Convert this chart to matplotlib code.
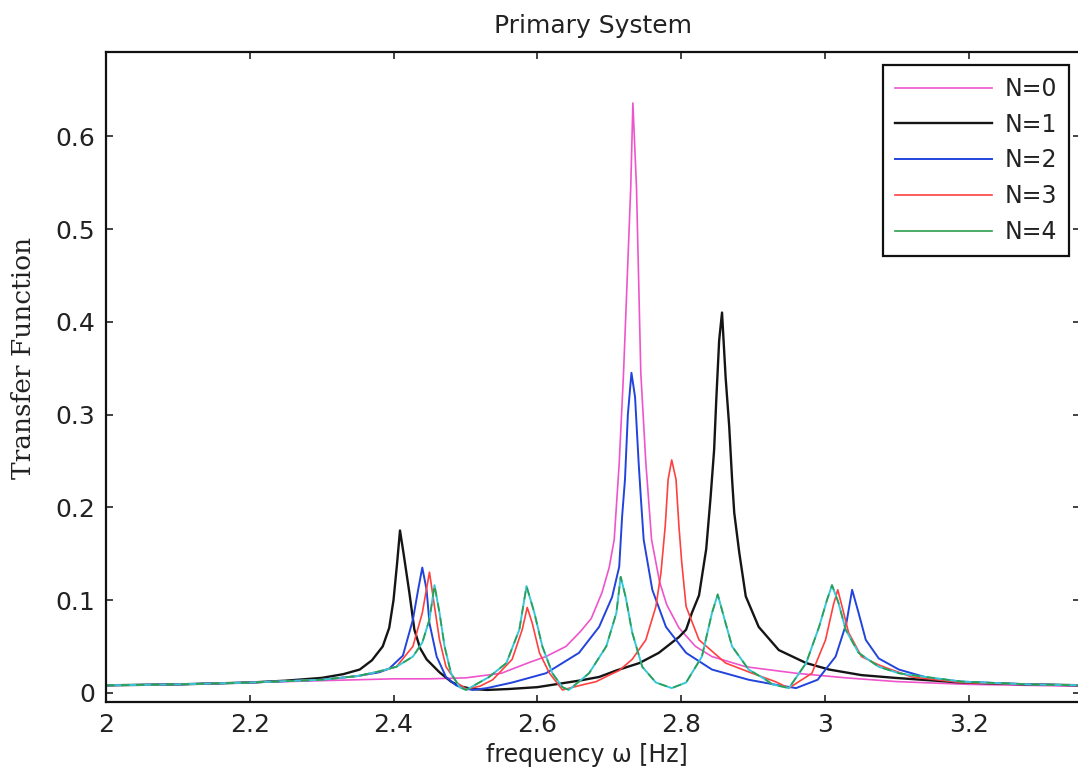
import numpy as np
import matplotlib
matplotlib.use('Agg')
import matplotlib.pyplot as plt
from matplotlib.ticker import FuncFormatter

# values (frequency in Hz, transfer function magnitude)
x_n0 = [2.0, 2.1, 2.2, 2.3, 2.4, 2.45, 2.5, 2.55, 2.59, 2.612, 2.64, 2.66, 2.675,
        2.69, 2.7, 2.707, 2.714, 2.72, 2.725, 2.73, 2.733, 2.738, 2.741, 2.744,
        2.751, 2.759, 2.77, 2.78, 2.797, 2.82, 2.843, 2.89, 2.96, 3.03, 3.1, 3.2, 3.36]
y_n0 = [0.008, 0.009, 0.011, 0.013, 0.015, 0.015, 0.016, 0.021, 0.033, 0.039, 0.05, 0.066, 0.08,
        0.108, 0.135, 0.165, 0.248, 0.345, 0.445, 0.545, 0.636, 0.545, 0.445, 0.345,
        0.248, 0.165, 0.12, 0.095, 0.07, 0.05, 0.039, 0.028, 0.021, 0.016, 0.012, 0.009, 0.007]

x_n1 = [2.0, 2.1, 2.2, 2.25, 2.3, 2.33, 2.353, 2.37, 2.385, 2.394, 2.4, 2.405, 2.409,
        2.414, 2.422, 2.429, 2.437, 2.446, 2.464, 2.48, 2.492, 2.51, 2.53, 2.56, 2.6,
        2.658, 2.686, 2.71, 2.742, 2.769, 2.797, 2.807, 2.815, 2.825, 2.835, 2.841,
        2.846, 2.849, 2.853, 2.857, 2.862, 2.867, 2.871, 2.874, 2.881, 2.89, 2.908,
        2.936, 2.974, 3.006, 3.051, 3.098, 3.19, 3.283, 3.36]
y_n1 = [0.008, 0.009, 0.011, 0.013, 0.016, 0.02, 0.025, 0.035, 0.05, 0.07, 0.1, 0.14, 0.175,
        0.15, 0.108, 0.068, 0.048, 0.036, 0.022, 0.012, 0.007, 0.004, 0.003, 0.004, 0.006,
        0.013, 0.017, 0.024, 0.032, 0.043, 0.06, 0.068, 0.086, 0.105, 0.155, 0.21,
        0.262, 0.316, 0.38, 0.41, 0.34, 0.287, 0.23, 0.194, 0.151, 0.104, 0.071,
        0.046, 0.032, 0.025, 0.019, 0.016, 0.011, 0.009, 0.008]

x_n2 = [2.0, 2.1, 2.2, 2.3, 2.35, 2.38, 2.394, 2.413, 2.427, 2.434, 2.44, 2.446, 2.45,
        2.46, 2.473, 2.487, 2.496, 2.51, 2.53, 2.565, 2.612, 2.658, 2.686, 2.704, 2.714,
        2.718, 2.722, 2.726, 2.731, 2.736, 2.741, 2.744, 2.748, 2.76, 2.779, 2.807,
        2.843, 2.894, 2.936, 2.96, 2.99, 3.015, 3.03, 3.038, 3.047, 3.057, 3.075, 3.103,
        3.13, 3.144, 3.19, 3.283, 3.36]
y_n2 = [0.008, 0.009, 0.011, 0.014, 0.018, 0.022, 0.026, 0.04, 0.079, 0.11, 0.135, 0.111, 0.075,
        0.039, 0.017, 0.008, 0.005, 0.003, 0.005, 0.011, 0.021, 0.043, 0.071, 0.103, 0.136,
        0.19, 0.23, 0.3, 0.345, 0.319, 0.248, 0.211, 0.165, 0.111, 0.071, 0.043,
        0.025, 0.014, 0.008, 0.005, 0.014, 0.039, 0.075, 0.111, 0.086, 0.057, 0.037, 0.025,
        0.019, 0.016, 0.012, 0.009, 0.008]

x_n3 = [2.0, 2.1, 2.2, 2.3, 2.35, 2.38, 2.404, 2.427, 2.44, 2.45, 2.457, 2.464, 2.473,
        2.488, 2.501, 2.52, 2.538, 2.565, 2.579, 2.586, 2.593, 2.603, 2.617, 2.635, 2.66,
        2.682, 2.7, 2.714, 2.732, 2.751, 2.765, 2.772, 2.778, 2.782, 2.787, 2.793, 2.797,
        2.801, 2.807, 2.825, 2.862, 2.899, 2.931, 2.95, 2.982, 3.001, 3.012, 3.018, 3.024,
        3.033, 3.051, 3.075, 3.085, 3.121, 3.19, 3.283, 3.36]
y_n3 = [0.008, 0.009, 0.011, 0.014, 0.018, 0.023, 0.028, 0.05, 0.086, 0.13, 0.093, 0.057, 0.028,
        0.011, 0.004, 0.007, 0.014, 0.036, 0.068, 0.092, 0.075, 0.043, 0.021, 0.003, 0.008,
        0.012, 0.019, 0.024, 0.036, 0.057, 0.093, 0.129, 0.18, 0.23, 0.251, 0.23, 0.18,
        0.14, 0.093, 0.057, 0.032, 0.021, 0.012, 0.005, 0.021, 0.057, 0.095, 0.111, 0.093,
        0.065, 0.039, 0.03, 0.027, 0.017, 0.011, 0.009, 0.008]

x_n4 = [2.0, 2.1, 2.2, 2.3, 2.35, 2.38, 2.404, 2.427, 2.44, 2.45, 2.457, 2.464, 2.471,
        2.48, 2.492, 2.501, 2.533, 2.557, 2.575, 2.585, 2.596, 2.607, 2.621, 2.635, 2.644,
        2.672, 2.696, 2.71, 2.716, 2.723, 2.732, 2.746, 2.765, 2.787, 2.807, 2.829, 2.843,
        2.851, 2.862, 2.871, 2.894, 2.918, 2.927, 2.95, 2.974, 2.992, 3.003, 3.01, 3.019,
        3.029, 3.047, 3.075, 3.103, 3.121, 3.19, 3.283, 3.36]
y_n4 = [0.008, 0.009, 0.011, 0.014, 0.018, 0.023, 0.028, 0.039, 0.054, 0.079, 0.116, 0.086, 0.05,
        0.021, 0.006, 0.003, 0.017, 0.032, 0.068, 0.115, 0.086, 0.05, 0.021, 0.006, 0.003,
        0.021, 0.05, 0.086, 0.125, 0.103, 0.065, 0.028, 0.011, 0.005, 0.011, 0.039, 0.086,
        0.106, 0.075, 0.05, 0.025, 0.014, 0.009, 0.005, 0.032, 0.071, 0.1, 0.116, 0.097,
        0.068, 0.043, 0.028, 0.021, 0.019, 0.012, 0.009, 0.008]

labels = ['N=0', 'N=1', 'N=2', 'N=3', 'N=4']
colors = ['#ee55cc', '#151515', '#2244dd', '#ff4040', '#2e9e4e']

fig = plt.figure(figsize=(10.78, 7.72), dpi=100)
ax = fig.add_axes([106/1078, 1 - 702/772, 974/1078, 650/772])

ax.plot(x_n0, y_n0, color=colors[0], lw=1.2, label=labels[0])
ax.plot(x_n1, y_n1, color=colors[1], lw=1.7, label=labels[1])
ax.plot(x_n2, y_n2, color=colors[2], lw=1.4, label=labels[2])
ax.plot(x_n3, y_n3, color=colors[3], lw=1.2, label=labels[3])
# N=4 shows up as a cyan/green mix in the original
ax.plot(x_n4, y_n4, color='#35c8d8', lw=1.4)
ax.plot(x_n4, y_n4, color=colors[4], lw=1.2, ls=(0, (5, 4)), label=labels[4])

ax.set_xlim(2, 3.355)
ax.set_ylim(-0.01, 0.691)
ax.set_xticks([2, 2.2, 2.4, 2.6, 2.8, 3, 3.2])
ax.set_yticks([0, 0.1, 0.2, 0.3, 0.4, 0.5, 0.6])
ax.xaxis.set_major_formatter(FuncFormatter(lambda v, p: '%g' % round(v, 2)))
ax.yaxis.set_major_formatter(FuncFormatter(lambda v, p: '%g' % round(v, 2)))
ax.tick_params(direction='in', top=True, right=True, length=5, width=1.2,
               labelsize=18, pad=8, colors='#222222')
for s in ax.spines.values():
    s.set_linewidth(1.6)
    s.set_color('#111111')

ax.set_title('Primary System', fontsize=18, pad=14, color='#222222')
ax.set_xlabel('frequency ω [Hz]', fontsize=17, color='#222222')
ax.xaxis.set_label_coords(0.494, -0.063)
ax.xaxis.label.set_va('top')
ax.set_ylabel('Transfer Function', fontsize=19, family='DejaVu Serif', color='#222222')
ax.yaxis.set_label_coords(-0.072, 0.53)

leg = ax.legend(loc='upper right', bbox_to_anchor=(0.9887, 0.98), borderaxespad=0,
                fontsize=17, fancybox=False, handlelength=4.1, handletextpad=0.55,
                labelspacing=0.5, borderpad=0.5, framealpha=1)
leg.get_frame().set_edgecolor('#111111')
leg.get_frame().set_linewidth(1.6)
for t in leg.get_texts():
    t.set_color('#222222')
for h in leg.get_lines():
    h.set_linestyle('-')

fig.savefig('out.png', dpi=100)
